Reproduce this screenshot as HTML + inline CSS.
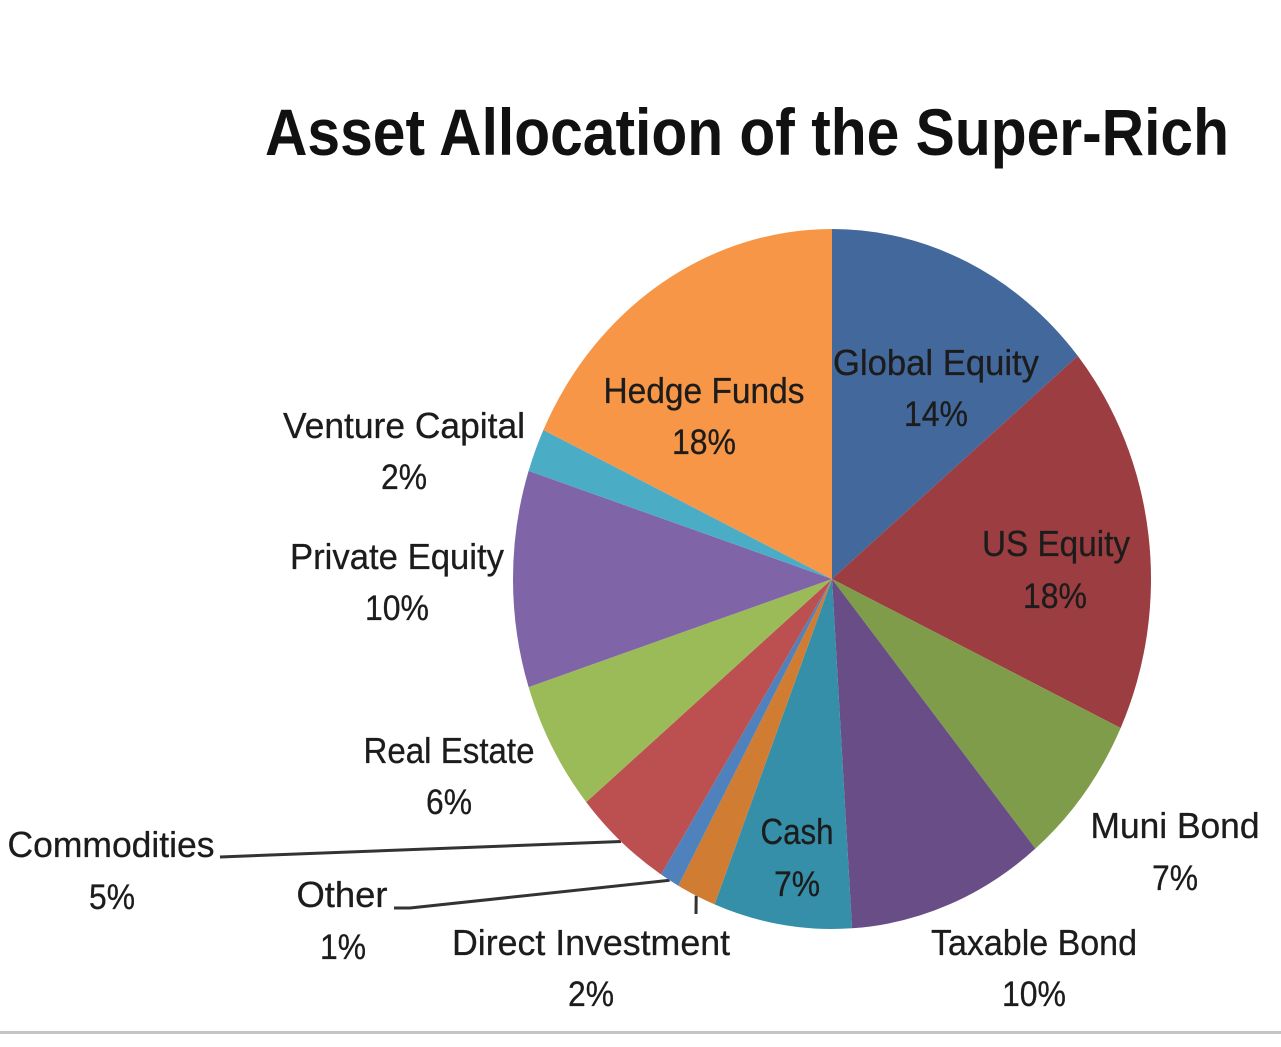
<!DOCTYPE html>
<html lang="en">
<head>
<meta charset="utf-8">
<title>Asset Allocation of the Super-Rich</title>
<style>
  html, body { margin: 0; padding: 0; background: #fff; }
  #stage { position: relative; width: 1281px; height: 1047px; overflow: hidden; background: #fff; }
  svg { display: block; position: absolute; left: 0; top: 0; }
  text { font-family: "Liberation Sans", sans-serif; fill: #1c1c1c; font-size: 36px; text-anchor: middle; stroke: #1c1c1c; stroke-width: 0.3px; }
  .pct { font-size: 35px; }
  #chart-title { font-size: 66px; font-weight: bold; fill: #111; stroke: none; }
</style>
</head>
<body>
<div id="stage">
<svg id="chart" width="1281" height="1047" viewBox="0 0 1281 1047">
  <g id="leaders"></g>
  <g id="slices"></g>
  <rect x="0" y="1031" width="1281" height="3" fill="#c4c4c4"></rect>

  <text id="chart-title" x="747" y="155" textLength="964" lengthAdjust="spacingAndGlyphs">Asset Allocation of the Super-Rich</text>

  <text x="936" y="375" textLength="206" lengthAdjust="spacingAndGlyphs">Global Equity</text>
  <text class="pct" x="936" y="426" data-pct="0">14%</text>

  <text x="1056" y="556" textLength="148" lengthAdjust="spacingAndGlyphs">US Equity</text>
  <text class="pct" x="1055" y="608" data-pct="1">18%</text>

  <text x="1175" y="838" textLength="169" lengthAdjust="spacingAndGlyphs">Muni Bond</text>
  <text class="pct" x="1175" y="890" data-pct="2">7%</text>

  <text x="1034" y="955" textLength="206" lengthAdjust="spacingAndGlyphs">Taxable Bond</text>
  <text class="pct" x="1034" y="1006" data-pct="3">10%</text>

  <text x="797" y="844" textLength="73" lengthAdjust="spacingAndGlyphs">Cash</text>
  <text class="pct" x="797" y="896" data-pct="4">7%</text>

  <text x="591" y="955" textLength="278" lengthAdjust="spacingAndGlyphs">Direct Investment</text>
  <text class="pct" x="591" y="1006" data-pct="5">2%</text>

  <text x="342" y="907" textLength="91" lengthAdjust="spacingAndGlyphs">Other</text>
  <text class="pct" x="343" y="959" data-pct="6">1%</text>

  <text x="111" y="857" textLength="207" lengthAdjust="spacingAndGlyphs">Commodities</text>
  <text class="pct" x="112" y="909" data-pct="7">5%</text>

  <text x="449" y="763" textLength="171" lengthAdjust="spacingAndGlyphs">Real Estate</text>
  <text class="pct" x="449" y="814" data-pct="8">6%</text>

  <text x="397" y="569" textLength="214" lengthAdjust="spacingAndGlyphs">Private Equity</text>
  <text class="pct" x="397" y="620" data-pct="9">10%</text>

  <text x="404" y="438" textLength="242" lengthAdjust="spacingAndGlyphs">Venture Capital</text>
  <text class="pct" x="404" y="489" data-pct="10">2%</text>

  <text x="704" y="403" textLength="201" lengthAdjust="spacingAndGlyphs">Hedge Funds</text>
  <text class="pct" x="704" y="454" data-pct="11">18%</text>
</svg>
</div>
<script>
const categories = ["Global Equity", "US Equity", "Muni Bond", "Taxable Bond", "Cash", "Direct Investment", "Other", "Commodities", "Real Estate", "Private Equity", "Venture Capital", "Hedge Funds"];
const values = [14, 18, 7, 10, 7, 2, 1, 5, 6, 10, 2, 18];
const colors = ["#43689b", "#9c3d41", "#7f9c4b", "#694d86", "#358fa8", "#d07c33", "#4f81bd", "#bc5050", "#9bbb59", "#8064a8", "#4bacc6", "#f79646"];

const NS = "http://www.w3.org/2000/svg";
const centerX = 832, centerY = 579, radiusX = 319, radiusY = 350;
const total = values.reduce(function (a, b) { return a + b; }, 0);

function angleScale(v) { return v / total * 2 * Math.PI; }
function arcX(a) { return centerX + radiusX * Math.sin(a); }
function arcY(a) { return centerY - radiusY * Math.cos(a); }

const sliceGroup = document.getElementById("slices");
const leaderGroup = document.getElementById("leaders");
const midAngles = [];
let cumulative = 0;

values.forEach(function (v, i) {
  const a0 = angleScale(cumulative);
  const a1 = angleScale(cumulative + v);
  midAngles.push((a0 + a1) / 2);
  cumulative += v;
  const large = (a1 - a0) > Math.PI ? 1 : 0;
  const d = "M" + centerX + " " + centerY +
    " L" + arcX(a0).toFixed(2) + " " + arcY(a0).toFixed(2) +
    " A" + radiusX + " " + radiusY + " 0 " + large + " 1 " + arcX(a1).toFixed(2) + " " + arcY(a1).toFixed(2) + " Z";
  const path = document.createElementNS(NS, "path");
  path.setAttribute("d", d);
  path.setAttribute("fill", colors[i]);
  
  
  sliceGroup.appendChild(path);
});

document.querySelectorAll("[data-pct]").forEach(function (el) {
  const label = values[+el.getAttribute("data-pct")] + "%";
  el.textContent = label;
  el.setAttribute("textLength", label.length > 2 ? 64 : 46);
  el.setAttribute("lengthAdjust", "spacingAndGlyphs");
});

function addLeader(index, points) {
  const a = midAngles[index];
  const line = document.createElementNS(NS, "polyline");
  line.setAttribute("points", points + " " + arcX(a).toFixed(1) + "," + arcY(a).toFixed(1));
  line.setAttribute("fill", "none");
  line.setAttribute("stroke", "#333");
  line.setAttribute("stroke-width", "3");
  
  
  leaderGroup.appendChild(line);
}
addLeader(7, "220,857");
addLeader(6, "394,908 410,908");
addLeader(5, "696,914");
</script>
</body>
</html>
